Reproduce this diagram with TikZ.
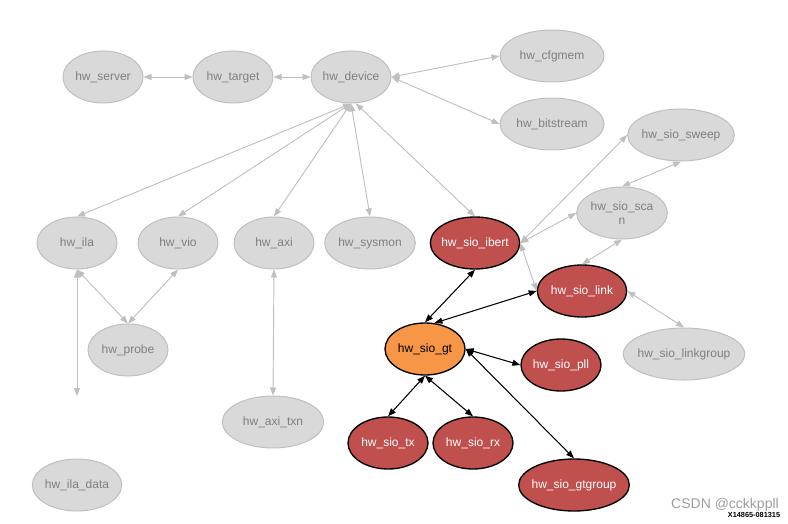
\documentclass[tikz,border=0pt]{standalone}
\usepackage{fontspec}
\setmainfont{Liberation Sans}
\usetikzlibrary{shapes.geometric, arrows.meta}
\definecolor{nodegray}{HTML}{D9D9D9}
\definecolor{linegray}{HTML}{BFBFBF}
\definecolor{textgray}{HTML}{7F7F7F}
\definecolor{siored}{HTML}{C0504D}
\definecolor{gtorange}{HTML}{F79646}

\begin{document}
\begin{tikzpicture}[x=0.75pt, y=-0.75pt, >={Triangle[length=6pt, width=4.5pt]}, font=\fontsize{9}{11}\selectfont]
        % Styles
        \tikzset{hwnode/.style={ellipse, draw=linegray, fill=nodegray, text=textgray, line width=0.75pt, inner xsep=-4pt, inner ysep=0pt, minimum width=60pt, minimum height=39pt, align=center}}
        \tikzset{sionode/.style={hwnode, draw=black, fill=siored, text=white, line width=1pt}}
        \tikzset{gtnode/.style={sionode, fill=gtorange, text=black}}
        \tikzset{grayline/.style={<->, draw=linegray, line width=0.7pt}}
        \tikzset{blackline/.style={<->, draw=black, line width=0.8pt}}

        \useasboundingbox (0,0) rectangle (788,524);

        % Top row
        \node[hwnode] (server) at (103,77) {hw\_server};
        \node[hwnode] (target) at (233,77) {hw\_target};
        \node[hwnode] (device) at (351,77) {hw\_device};
        \node[hwnode, minimum width=78pt] (cfgmem) at (552,56) {hw\_cfgmem};
        \node[hwnode, minimum width=78pt] (bitstream) at (552,124) {hw\_bitstream};

        % Debug cores
        \node[hwnode] (ila) at (77,243) {hw\_ila};
        \node[hwnode] (vio) at (178,243) {hw\_vio};
        \node[hwnode] (axi) at (274,243) {hw\_axi};
        \node[hwnode, minimum width=68pt] (sysmon) at (370,243) {hw\_sysmon};
        \node[hwnode] (probe) at (128,350) {hw\_probe};
        \node[hwnode, minimum width=76pt] (axitxn) at (273,422) {hw\_axi\_txn};
        \node[hwnode, minimum width=67pt] (iladata) at (77,485) {hw\_ila\_data};
        \coordinate (ilaend) at (77,396);

        % IBERT
        \node[sionode, minimum width=67pt] (ibert) at (475,243) {hw\_sio\_ibert};
        \node[hwnode, minimum width=80pt] (sweep) at (681,135) {hw\_sio\_sweep};
        \node[hwnode, minimum width=68pt] (scan) at (622,213) {hw\_sio\_sca\\n};
        \node[sionode, minimum width=67pt] (link) at (582,291) {hw\_sio\_link};
        \node[hwnode, minimum width=91pt] (linkgroup) at (684,354) {hw\_sio\_linkgroup};
        \node[gtnode] (gt) at (425,349) {hw\_sio\_gt};
        \node[sionode] (pll) at (561,365) {hw\_sio\_pll};
        \node[sionode] (tx) at (388,443) {hw\_sio\_tx};
        \node[sionode] (rx) at (473,443) {hw\_sio\_rx};
        \node[sionode, minimum width=83pt] (gtgroup) at (574,485) {hw\_sio\_gtgroup};

        % Marks
        \node[text=black!38, font=\fontsize{10.5}{12}\selectfont, inner sep=0pt] (watermark) at (725,505) {CSDN @cckkppll};
        \node[font=\fontsize{5.5}{6}\selectfont\bfseries, inner sep=0pt] (figid) at (754,515) {X14865-081315};

        % Connections
        \draw[grayline] (server) -- (target);
        \draw[grayline] (target) -- (device);
        \draw[grayline] (device.east) -- (cfgmem.west);
        \draw[grayline] (device.east) -- (bitstream.west);
        \draw[grayline] (device.south) -- (ila.north);
        \draw[grayline] (device.south) -- (vio.north);
        \draw[grayline] (device.south) -- (axi.north);
        \draw[grayline] (device.south) -- (sysmon.north);
        \draw[grayline] (device.-80) -- (ibert.north);
        \draw[grayline] (ila.south) -- (probe.north);
        \draw[grayline] (vio.south) -- (probe.north);
        \draw[grayline] (ila.south) -- (ilaend);
        \draw[grayline] (axi.south) -- (axitxn.north);
        \draw[grayline] (ibert.east) -- (sweep.west);
        \draw[grayline] (ibert.east) -- (scan.west);
        \draw[grayline] (ibert.east) -- (link.west);
        \draw[grayline] (sweep.south) -- (scan.north);
        \draw[grayline] (scan.south) -- (link.north);
        \draw[grayline] (link.east) -- (linkgroup.north);
        \draw[blackline] (gt.north) -- (ibert.south);
        \draw[blackline] (gt.70) -- (link.west);
        \draw[blackline] (gt.east) -- (pll.west);
        \draw[blackline] (gt.east) -- (gtgroup.north);
        \draw[blackline] (gt.south) -- (tx.north);
        \draw[blackline] (gt.south) -- (rx.north);
    \end{tikzpicture}
\end{document}
